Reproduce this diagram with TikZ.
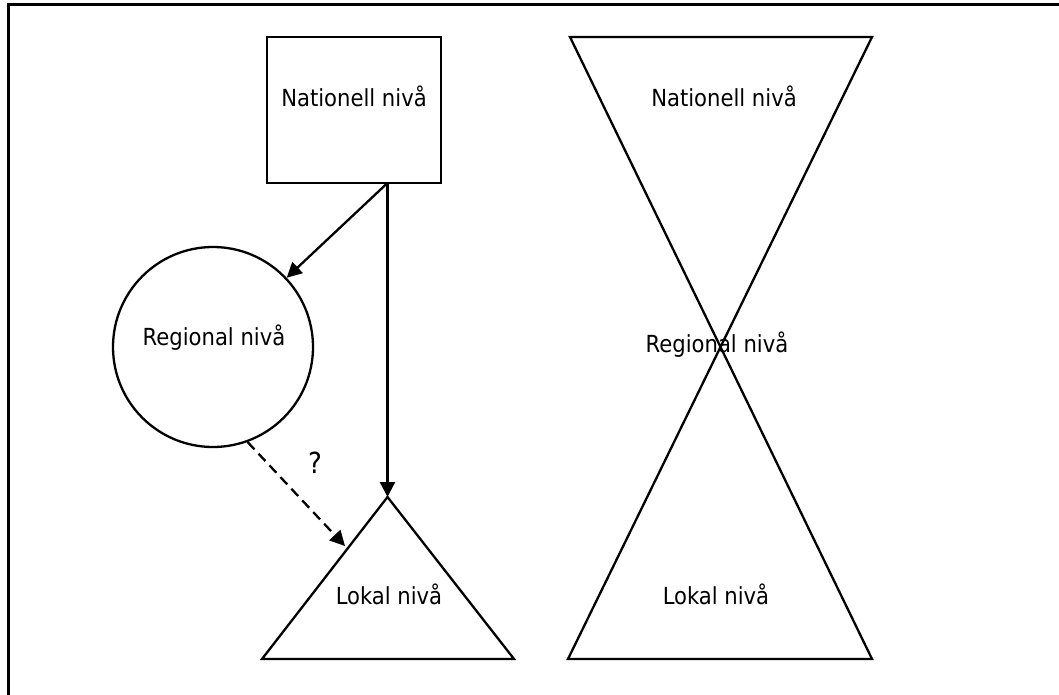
\documentclass[tikz,border=0pt]{standalone}
\usepackage{fontspec}
\setmainfont{DejaVu Sans Condensed}
\usepackage{tikz}
\usetikzlibrary{arrows.meta, positioning}
\tikzstyle{arrow} = [line width=2.3pt,-{Triangle[length=15pt,width=15pt]}]

\begin{document}
\begin{tikzpicture}[
    x=1pt, y=-1pt,
    lvl/.style={line width=2.3pt},
    box/.style={
        draw,
        lvl,
        minimum width=174pt,
        minimum height=146pt,
        inner sep=0pt
    },
    ring/.style={
        draw,
        circle,
        lvl,
        minimum size=200pt,
        inner sep=0pt
    },
    txt/.style={anchor=base, inner sep=0pt, font=\fontsize{23.5}{28}\selectfont}
]
\useasboundingbox (0,0) rectangle (1059,695);

% Frame
\draw[line width=3pt] (1059,4.8) -- (8.5,4.8) -- (8.5,695);

% Levels (left)
\node[box] (nat) at (354,110) {};
\node[ring] (reg) at (213,347) {};
\coordinate (lokapex) at (387.5,497);
\coordinate (lokleft) at (262,659);
\coordinate (lokright) at (514,659);
\draw[lvl] (lokapex) -- (lokright) -- (lokleft) -- cycle;

\coordinate (natfoot) at (387.5,183);
\coordinate (lokside) at (345,546);

% Arrows
\draw[arrow] (natfoot) -- (reg);
\draw[arrow] (natfoot) -- (lokapex);
\draw[arrow, dash pattern=on 10pt off 6pt] (reg.-70) -- (lokside);

% Labels (left)
\node[txt] (natlbl) at (354,107) {Nationell nivå};
\node[txt] (reglbl) at (214,345) {Regional nivå};
\node[txt] (loklbl) at (389,604) {Lokal nivå};
\node[txt, font=\fontsize{29}{34}\selectfont] (ask) at (315,473) {?};

% Hourglass (right)
\coordinate (hgtl) at (570,37);
\coordinate (hgtr) at (872,37);
\coordinate (hgbl) at (568,659);
\coordinate (hgbr) at (872,659);
\draw[lvl] (hgtl) -- (hgtr) -- (hgbl) -- (hgbr) -- cycle;

\node[txt] (hgnat) at (724,107) {Nationell nivå};
\node[txt] (hgreg) at (717,352) {Regional nivå};
\node[txt] (hglok) at (716,604) {Lokal nivå};
\end{tikzpicture}
\end{document}
